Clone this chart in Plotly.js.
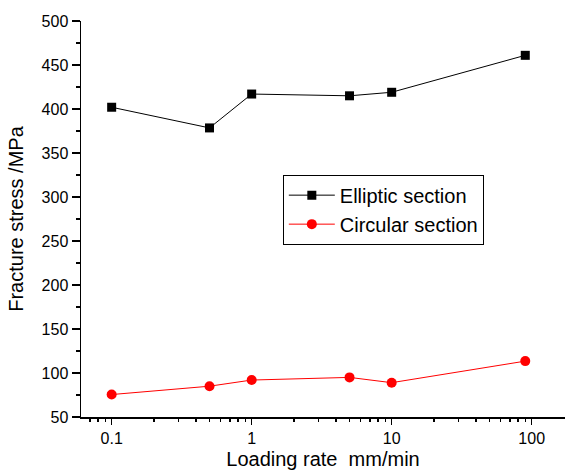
<!DOCTYPE html>
<html>
<head>
<meta charset="utf-8">
<script src="https://cdn.plot.ly/plotly-3.0.1.min.js"></script>
<style>html,body{margin:0;padding:0;background:#fff;}</style>
</head>
<body>
<div id="chart" style="width:565px;height:472px;"></div>
<script>
const loadingRate = [0.1, 0.5, 1, 5, 10, 90];
const elliptic = [402, 378.5, 417, 415, 419, 461];
const circular = [75.5, 85, 92, 95, 89, 113.5];
const seriesNames = ["Elliptic section", "Circular section"];
const xTickVals = [0.1, 1, 10, 100];
const xTickText = ["0.1", "1", "10", "100"];

const font = "Arial, 'Liberation Sans', sans-serif";

const traces = [
  {
    x: loadingRate, y: elliptic, name: seriesNames[0],
    type: 'scatter', mode: 'lines+markers',
    line: {color: '#000000', width: 1},
    marker: {symbol: 'square', size: 9, color: '#000000'}
  },
  {
    x: loadingRate, y: circular, name: seriesNames[1],
    type: 'scatter', mode: 'lines+markers',
    line: {color: '#ff0000', width: 1},
    marker: {symbol: 'circle', size: 10, color: '#ff0000'}
  }
];

const layout = {
  width: 565, height: 472,
  margin: {l: 81, r: 0, t: 21, b: 55, pad: 0},
  paper_bgcolor: '#ffffff', plot_bgcolor: '#ffffff',
  font: {family: font, color: '#000000', size: 16},
  showlegend: true,
  legend: {
    x: 0.417, y: 0.612, xanchor: 'left', yanchor: 'top',
    bordercolor: '#000000', borderwidth: 1, bgcolor: '#ffffff',
    font: {family: font, size: 20, color: '#000000'},
    itemwidth: 46,
    tracegroupgap: 0
  },
  xaxis: {
    type: 'log',
    range: [-1.219, 2.238],
    tickvals: xTickVals, ticktext: xTickText,
    ticks: 'outside', ticklen: 6, tickwidth: 1.5, tickcolor: '#000',
    minor: {ticks: 'outside', ticklen: 3, tickwidth: 1.5, tickcolor: '#000', dtick: 'D1', showgrid: false},
    showline: true, linecolor: '#000', linewidth: 1.5,
    showgrid: false, zeroline: false,
    tickfont: {size: 16},
    title: {text: 'Loading rate\u00a0\u00a0mm/min', font: {size: 20}, standoff: 6}
  },
  yaxis: {
    range: [50, 500],
    dtick: 50, tick0: 0,
    ticks: 'outside', ticklen: 8, tickwidth: 1.5, tickcolor: '#000',
    minor: {ticks: 'outside', ticklen: 4, tickwidth: 1.5, tickcolor: '#000', dtick: 25, showgrid: false},
    showline: true, linecolor: '#000', linewidth: 1.5,
    showgrid: false, zeroline: false,
    tickfont: {size: 16},
    title: {text: 'Fracture stress /MPa', font: {size: 20}, standoff: 12}
  }
};

Plotly.newPlot('chart', traces, layout, {displayModeBar: false, staticPlot: true});
</script>
</body>
</html>
